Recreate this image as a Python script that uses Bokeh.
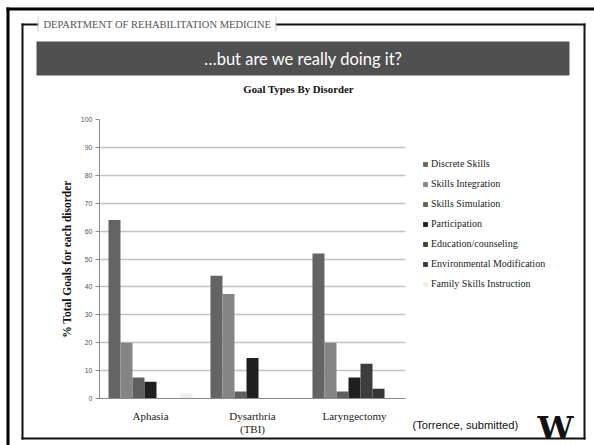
from bokeh.plotting import figure
from bokeh.models import (FactorRange, Range1d, Legend, LegendItem, Label, GridBox,
                          SingleIntervalTicker, ColumnDataSource)
from bokeh.transform import dodge
from bokeh.embed import file_html
from bokeh.resources import INLINE

# ---------------- data ----------------
categories = ["Aphasia", "Dysarthria\n(TBI)", "Laryngectomy"]
series_names = ["Discrete Skills", "Skills Integration", "Skills Simulation", "Participation",
                "Education/counseling", "Environmental Modification", "Family Skills Instruction"]
discrete_skills = [64, 44, 52]
skills_integration = [20, 37.5, 20]
skills_simulation = [7.5, 2.5, 2.5]
participation = [6, 14.5, 7.5]
education_counseling = [0, 0, 12.5]
environmental_modification = [0, 0, 3.5]
family_skills_instruction = [1.8, 0, 0]
series_values = [discrete_skills, skills_integration, skills_simulation, participation,
                 education_counseling, environmental_modification, family_skills_instruction]
series_colors = ["#646464", "#858585", "#5f5f5f", "#1f1f1f", "#3d3d3d", "#353535", "#eeeeee"]

chart_title = "Goal Types By Disorder"
slide_title = "\u2026but are we really doing it?"
dept_text = "DEPARTMENT OF REHABILITATION MEDICINE"
y_label = "% Total Goals for each disorder"
source_note = "(Torrence, submitted)"

W, H = 594, 445
INK = "#111111"

# ---------- slide background (whole canvas, pixel coordinates) ----------
deco = figure(width=W, height=H, x_range=Range1d(0, W), y_range=Range1d(H, 0),
              min_border=0, output_backend="svg", toolbar_location=None,
              outline_line_color=None, background_fill_color="white",
              border_fill_color="white", frame_align=False)
deco.axis.visible = False
deco.grid.visible = False


def rect(l, t, r, b, color):
    deco.quad(left=[l], right=[r], top=[t], bottom=[b], fill_color=color, line_color=None)


def label(text, x, y, size, font, color, style="normal", align="center"):
    deco.add_layout(Label(x=x, y=y, text=text, text_font=font, text_font_size=size,
                          text_color=color, text_font_style=style,
                          text_align=align, text_baseline="middle"))


rect(6, 7, 594, 10, "#000000")       # outer top rule
rect(6, 7, 9, 445, "#000000")        # outer left rule
rect(21, 23, 38, 25, INK)            # inner frame, top (left of caption)
rect(275, 23, 585, 25, INK)          # inner frame, top (right of caption)
rect(21, 23, 23, 439, INK)           # inner frame, left
rect(583, 23, 585, 439, INK)         # inner frame, right
rect(21, 437, 585, 439, INK)         # inner frame, bottom
rect(37, 16, 38, 31, "#d0d0d0")
rect(275, 16, 276, 31, "#d0d0d0")
rect(36, 41, 569, 75, "#505050")     # title bar
label(dept_text, 43, 24, "10.5px", "Liberation Serif", "#555555", align="left")
label(slide_title, 303, 58, "16.5px", "Lato", "#ffffff")
label(chart_title, 298, 88, "10.8px", "Liberation Serif", INK, style="bold")
label(source_note, 412, 424, "11.2px", "Liberation Sans", INK, align="left")
label("W", 555, 427, "32px", "DejaVu Serif", INK, style="bold")

# legend (swatches share the series colours)
items = []
for name, col in zip(series_names, series_colors):
    r = deco.vbar(x=[-100], top=[0], width=1, fill_color=col, line_color=None)
    items.append(LegendItem(label=name, renderers=[r]))
legend = Legend(items=items, location=(422, H - 291), orientation="vertical",
                padding=0, margin=0, spacing=5, label_height=15,
                glyph_width=6, glyph_height=6, label_standoff=3,
                label_text_font="Liberation Serif", label_text_font_size="10px",
                label_text_color="#222222", border_line_color=None,
                background_fill_alpha=0)
deco.add_layout(legend, "center")

# ---------- chart (transparent, overlaid on the slide) ----------
FL, FR, FT, FB = 99, 405, 119, 398
p = figure(width=W, height=H,
           x_range=FactorRange(*categories, range_padding=0),
           y_range=Range1d(0, 100),
           min_border_left=FL, min_border_right=W - FR,
           min_border_top=FT, min_border_bottom=H - FB,
           output_backend="svg", toolbar_location=None,
           outline_line_color=None, background_fill_color=None,
           border_fill_color=None, frame_align=False)

bw = 0.824 / 7
for i, (name, vals, col) in enumerate(zip(series_names, series_values, series_colors)):
    src = ColumnDataSource(dict(x=categories, top=vals))
    p.vbar(x=dodge("x", (i - 3) * bw, range=p.x_range), top="top", width=bw,
           source=src, fill_color=col, line_color=None)

p.yaxis.ticker = SingleIntervalTicker(interval=10)
p.yaxis.axis_line_color = "#8a8a8a"
p.yaxis.major_tick_line_color = "#8a8a8a"
p.yaxis.major_tick_out = 4
p.yaxis.major_tick_in = 0
p.yaxis.minor_tick_line_color = None
p.yaxis.major_label_standoff = 3
p.yaxis.major_label_text_font = "Liberation Sans"
p.yaxis.major_label_text_font_size = "7px"
p.yaxis.major_label_text_color = "#555555"
p.yaxis.axis_label = y_label
p.yaxis.axis_label_text_font = "Liberation Serif"
p.yaxis.axis_label_text_font_style = "bold"
p.yaxis.axis_label_text_font_size = "11.5px"
p.yaxis.axis_label_text_color = INK
p.yaxis.axis_label_standoff = 5

p.xaxis.axis_line_color = "#8a8a8a"
p.xaxis.major_tick_line_color = None
p.xaxis.minor_tick_line_color = None
p.xaxis.major_label_text_font = "Liberation Serif"
p.xaxis.major_label_text_font_size = "11px"
p.xaxis.major_label_text_color = "#222222"
p.xaxis.major_label_standoff = 5
p.xaxis.major_label_text_line_height = 1.15

p.xgrid.grid_line_color = None
p.ygrid.grid_line_color = "#c4c4c4"
p.ygrid.grid_line_width = 1.5

layout = GridBox(children=[(deco, 0, 0), (p, 0, 0)], width=W, height=H)
open("out.html", "w").write(file_html(layout, INLINE))
